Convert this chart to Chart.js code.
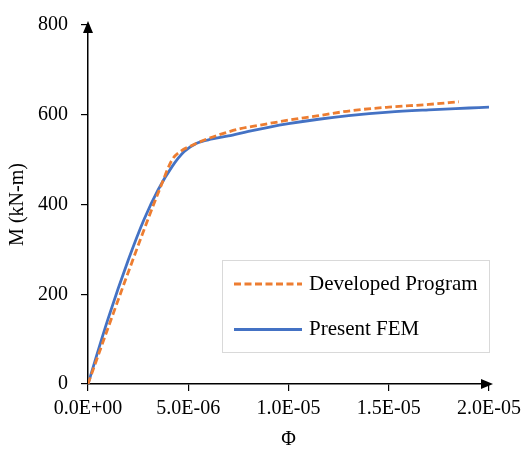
<!DOCTYPE html>
<html>
<head>
<meta charset="utf-8">
<script src="https://cdn.jsdelivr.net/npm/chart.js@4"></script>
<style>
  html, body { margin: 0; padding: 0; background: #fff; }
  #wrap { width: 527px; height: 455px; }
</style>
</head>
<body>
<div id="wrap"><canvas id="grafico" width="527" height="455"></canvas></div>
<script>
// Curva momento-curvatura: programa desarrollado vs. MEF
const phiDev = [0, 1e-6, 2e-6, 3e-6, 3.6e-6, 4.2e-6, 4.6e-6, 5.2e-6, 5.93e-6, 6.8e-6, 7.6e-6, 8.6e-6, 10e-6, 11.5e-6, 13.1e-6, 15e-6, 17e-6, 18.5e-6];
const mDev   = [0, 125, 248, 368, 437, 500, 518, 532, 546, 559, 569, 577, 588, 598, 609, 617, 623, 629];

const phiFem = [0, 1e-6, 2e-6, 2.8e-6, 3.5e-6, 4.2e-6, 4.8e-6, 5.4e-6, 6.2e-6, 7e-6, 8e-6, 9e-6, 10e-6, 11.5e-6, 13e-6, 15e-6, 17e-6, 19e-6, 20e-6];
const mFem   = [0, 145, 275, 367, 433, 485, 518, 536, 546, 553, 563, 572, 580, 590, 598, 606, 611, 615, 617];

const etiquetas = ['Developed Program', 'Present FEM'];
const xTicks = [0, 5e-6, 10e-6, 15e-6, 20e-6];
const yTicks = [0, 200, 400, 600, 800];

const fuente = "'Times New Roman', 'Liberation Serif', serif";
Chart.defaults.font.family = fuente;
Chart.defaults.color = '#000';

function puntos(xs, ys) {
    return xs.map((x, i) => ({ x: x, y: ys[i] }));
}

// formato tipo Excel: 5.0E-06
function formatoCientifico(v) {
    const partes = Number(v).toExponential(1).split('e');
    const signo = partes[1][0] === '-' ? '-' : '+';
    const exp = partes[1].replace(/[+-]/, '').padStart(2, '0');
    return partes[0] + 'E' + signo + exp;
}

// flechas al final de los ejes
const flechas = {
    id: 'flechas',
    afterDraw(chart) {
        const { ctx, chartArea: a } = chart;
        ctx.save();
        ctx.fillStyle = '#000';
        ctx.beginPath();
        ctx.moveTo(a.left, a.top - 4);
        ctx.lineTo(a.left - 5, a.top + 8);
        ctx.lineTo(a.left + 5, a.top + 8);
        ctx.closePath();
        ctx.fill();
        ctx.beginPath();
        ctx.moveTo(a.right + 4, a.bottom);
        ctx.lineTo(a.right - 8, a.bottom - 5);
        ctx.lineTo(a.right - 8, a.bottom + 5);
        ctx.closePath();
        ctx.fill();
        ctx.restore();
    }
};

// leyenda dentro del área del gráfico
const leyendaInterna = {
    id: 'leyendaInterna',
    afterDraw(chart) {
        const { ctx, chartArea: a } = chart;
        const x0 = a.left + 134, y0 = a.top + 235, w = a.right - x0, h = 92;
        ctx.save();
        ctx.fillStyle = '#fff';
        ctx.fillRect(x0, y0, w, h);
        ctx.strokeStyle = '#d9d9d9';
        ctx.lineWidth = 1;
        ctx.strokeRect(x0 + 0.5, y0 + 0.5, w, h);
        ctx.font = '21px ' + fuente;
        ctx.textBaseline = 'middle';
        chart.data.datasets.forEach((ds, i) => {
            const yy = y0 + 24 + i * 45.5;
            ctx.strokeStyle = ds.borderColor;
            ctx.lineWidth = ds.borderWidth;
            ctx.setLineDash(ds.borderDash || []);
            ctx.beginPath();
            ctx.moveTo(x0 + 12, yy);
            ctx.lineTo(x0 + 80, yy);
            ctx.stroke();
            ctx.setLineDash([]);
            ctx.fillStyle = '#000';
            ctx.fillText(ds.label, x0 + 87, yy);
        });
        ctx.restore();
    }
};

const ctx = document.getElementById('grafico').getContext('2d');

new Chart(ctx, {
    type: 'scatter',
    data: {
        datasets: [{
            label: etiquetas[0],
            data: puntos(phiDev, mDev),
            showLine: true,
            borderColor: '#ED7D31',
            borderWidth: 2.8,
            borderDash: [7, 3.5],
            pointRadius: 0,
            cubicInterpolationMode: 'monotone'
        }, {
            label: etiquetas[1],
            data: puntos(phiFem, mFem),
            showLine: true,
            borderColor: '#4472C4',
            borderWidth: 2.8,
            pointRadius: 0,
            cubicInterpolationMode: 'monotone'
        }]
    },
    options: {
        responsive: false,
        animation: false,
        layout: { padding: { top: 8, right: 38, left: 0, bottom: 0 } },
        plugins: {
            legend: { display: false },
            tooltip: { enabled: false }
        },
        scales: {
            x: {
                type: 'linear',
                min: 0,
                max: 20e-6,
                afterBuildTicks: axis => { axis.ticks = xTicks.map(v => ({ value: v })); },
                afterFit: axis => { axis.height = 71; },
                ticks: { font: { size: 20 }, padding: 6, callback: v => formatoCientifico(v), maxRotation: 0 },
                grid: { drawOnChartArea: false, drawTicks: true, tickLength: 7, color: '#000', lineWidth: 1.2 },
                border: { color: '#000', width: 1.5 },
                title: { display: true, text: 'Φ', font: { size: 20 }, padding: { top: 4, bottom: 3 } }
            },
            y: {
                min: 0,
                max: 800,
                afterBuildTicks: axis => { axis.ticks = yTicks.map(v => ({ value: v })); },
                afterFit: axis => { axis.width = 88; },
                ticks: { font: { size: 20 }, padding: 13 },
                grid: { drawOnChartArea: false, drawTicks: true, tickLength: 7, color: '#000', lineWidth: 1.2 },
                border: { color: '#000', width: 1.5 },
                title: { display: true, text: 'M (kN-m)', font: { size: 20 }, padding: { top: 6, bottom: 4 } }
            }
        }
    },
    plugins: [flechas, leyendaInterna]
});
</script>
</body>
</html>
